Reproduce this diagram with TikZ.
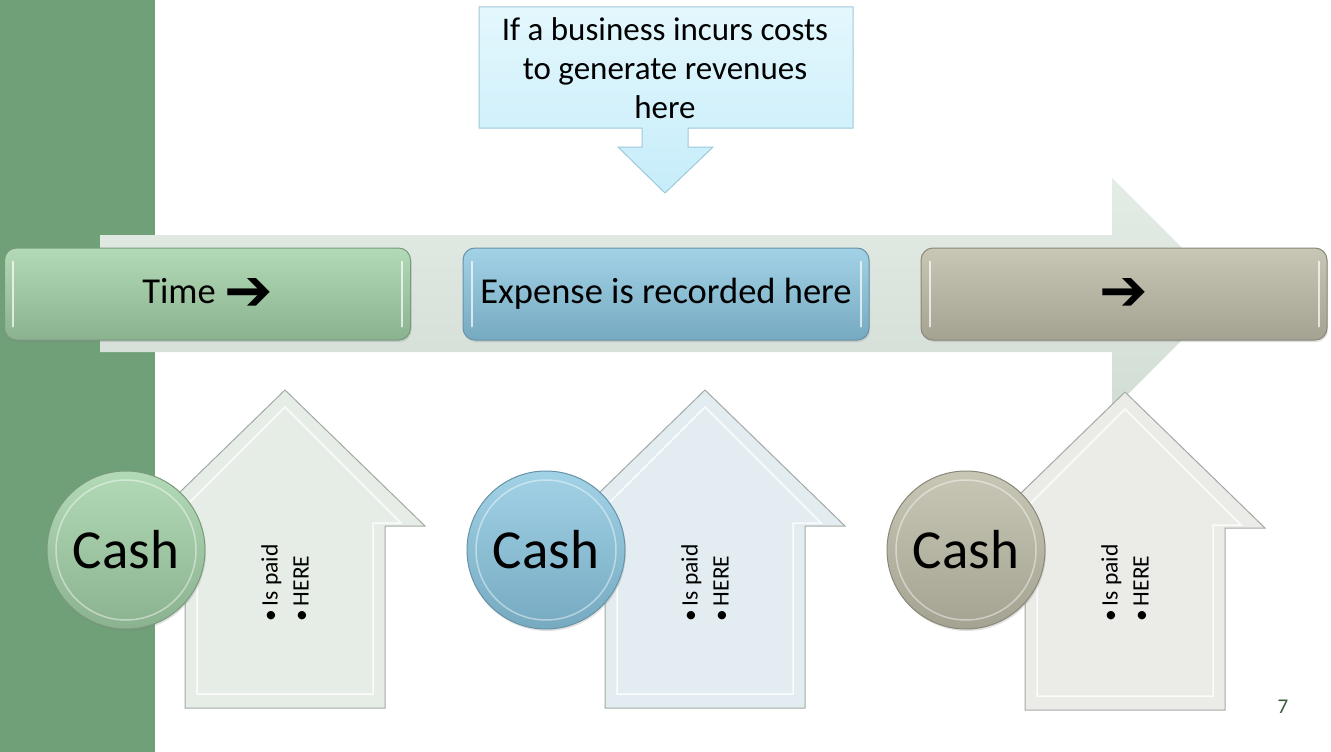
\documentclass[tikz,border=0pt]{standalone}
\usepackage{fontspec}
\setmainfont{Carlito}
\newfontfamily\dejavu{DejaVu Sans Bold}
\usetikzlibrary{shadows}
\definecolor{barGreen}{HTML}{6FA077}
\definecolor{bigTop}{HTML}{E3ECE5}
\definecolor{bigBot}{HTML}{D2DDD5}
\definecolor{calTop}{HTML}{E4F7FD}
\definecolor{calBot}{HTML}{C6EDFA}
\definecolor{calLine}{HTML}{9DC9D9}
\definecolor{gTop}{HTML}{B3DAB6}
\definecolor{gBot}{HTML}{8BB28F}
\definecolor{gLine}{HTML}{7A9A7D}
\definecolor{bTop}{HTML}{A2D2E6}
\definecolor{bBot}{HTML}{76AAC1}
\definecolor{bLine}{HTML}{6793A7}
\definecolor{kTop}{HTML}{C8C6B4}
\definecolor{kBot}{HTML}{A4A291}
\definecolor{kLine}{HTML}{8A887A}
\definecolor{hG}{HTML}{E6EDE7}
\definecolor{hB}{HTML}{E3EDF1}
\definecolor{hK}{HTML}{EBEBE8}
\definecolor{hLine}{HTML}{A3AAA5}
\definecolor{pageNum}{HTML}{3A5A3C}
\newcommand{\bigarr}{\raisebox{-7pt}{\dejavu\fontsize{58}{60}\selectfont ➔}}
\tikzset{
  tbox/.style={draw, line width=1pt, rounded corners=12pt, minimum width=406pt, minimum height=92pt,
    font=\fontsize{36.5}{44}\selectfont, inner sep=0pt,
    drop shadow={opacity=0.25, shadow xshift=1pt, shadow yshift=-2pt}},
  coin/.style={circle, draw, line width=1pt, minimum size=158pt, inner sep=0pt,
    font=\fontsize{55}{64}\selectfont,
    drop shadow={opacity=0.25, shadow xshift=1pt, shadow yshift=-2pt}},
  paidtxt/.style={rotate=90, align=left, font=\fontsize{23.5}{31}\selectfont, inner sep=0pt},
  house/.pic={
    \path[pic actions] (0,0) -- (140,136) -- (100,136) -- (100,318) -- (-100,318) -- (-100,136) -- (-140,136) -- cycle;
    \draw[white, opacity=0.8, line width=1.5pt] (0,17) -- (116,133) -- (88,133) -- (88,304) -- (-88,304) -- (-88,133) -- (-116,133) -- cycle;
  }
}
\begin{document}
\begin{tikzpicture}[x=1pt,y=-1pt]
\useasboundingbox (0,0) rectangle (1331,752);
% left bar
\fill[barGreen] (0,0) rectangle (155,752);
% big timeline arrow
\path[top color=bigTop, bottom color=bigBot] (100,235) -- (1112,235) -- (1112,178) -- (1228,294) -- (1112,410) -- (1112,352) -- (100,352) -- cycle;
% callout
\path[draw=calLine, line width=1pt, top color=calTop, bottom color=calBot]
  (479,7) -- (853,7) -- (853,128) -- (688,128) -- (688,147) -- (713,147) -- (665,193) -- (618,147) -- (642,147) -- (642,128) -- (479,128) -- cycle;
\node[align=center, font=\fontsize{33}{39}\selectfont] (callout) at (665,68) {If a business incurs costs\\to generate revenues\\here};
% timeline boxes
\node[tbox, draw=gLine, top color=gTop, bottom color=gBot] (b1) at (207.5,294) {Time \bigarr};
\node[tbox, draw=bLine, top color=bTop, bottom color=bBot] (b2) at (666,294) {Expense is recorded here};
\node[tbox, draw=kLine, top color=kTop, bottom color=kBot] (b3) at (1124,294) {\bigarr};
\foreach \b in {b1,b2,b3}{
  \draw[white, opacity=0.7, line width=2pt, line cap=round] ([xshift=9pt,yshift=-14pt]\b.north west) -- ([xshift=9pt,yshift=14pt]\b.south west);
  \draw[white, opacity=0.7, line width=2pt, line cap=round] ([xshift=-9pt,yshift=-14pt]\b.north east) -- ([xshift=-9pt,yshift=14pt]\b.south east);
}
% up arrows
\pic[draw=hLine, fill=hG, line width=1pt] at (285,390) {house};
\pic[draw=hLine, fill=hB, line width=1pt] at (705,390) {house};
\pic[draw=hLine, fill=hK, line width=1pt] at (1125,392) {house};
\node[paidtxt] (p1) at (285,583) {•\,Is paid\\•\,HERE};
\node[paidtxt] (p2) at (705,583) {•\,Is paid\\•\,HERE};
\node[paidtxt] (p3) at (1125,583) {•\,Is paid\\•\,HERE};
% coins
\node[coin, draw=gLine, top color=gTop, bottom color=gBot] (c1) at (126,550) {Cash};
\node[coin, draw=bLine, top color=bTop, bottom color=bBot] (c2) at (546,550) {Cash};
\node[coin, draw=kLine, top color=kTop, bottom color=kBot] (c3) at (966,550) {Cash};
\foreach \c in {c1,c2,c3}{
  \draw[white, opacity=0.45, line width=1.5pt] (\c.center) circle (70pt);
}
% page number
\node[text=pageNum, font=\fontsize{21}{24}\selectfont] (pg) at (1283,707) {7};
\end{tikzpicture}
\end{document}
